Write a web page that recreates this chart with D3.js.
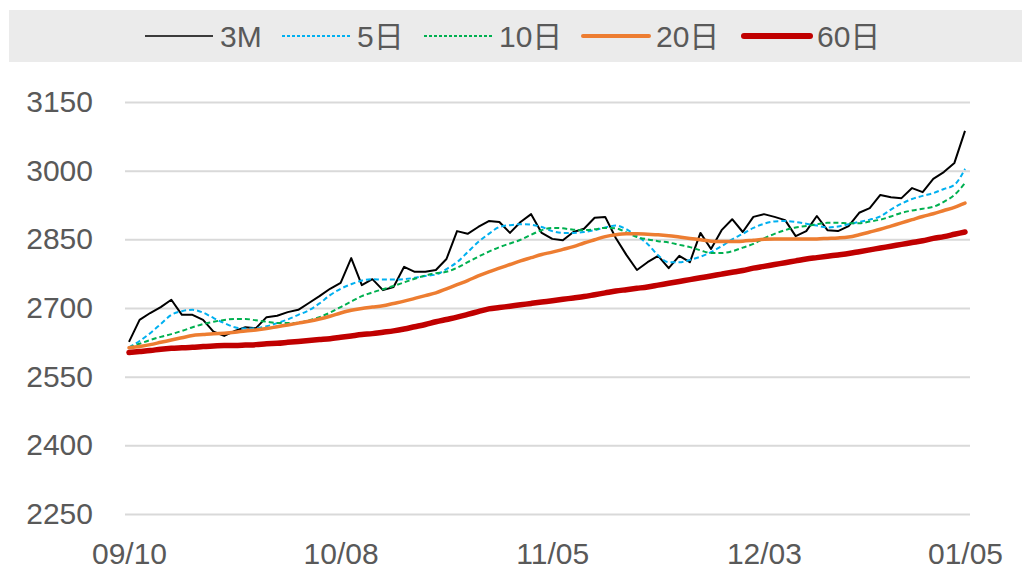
<!DOCTYPE html>
<html>
<head>
<meta charset="utf-8">
<script src="https://cdn.jsdelivr.net/npm/d3@7"></script>
<style>
  html, body { margin: 0; padding: 0; background: #fff; }
  text { font-family: "Liberation Sans", Arial, "Noto Sans CJK SC", sans-serif; fill: #595959; }
</style>
</head>
<body>
<div id="container"></div>
<script>
const dates = [
  '09/10','09/11','09/14','09/15','09/16','09/17','09/18','09/21','09/22','09/23',
  '09/24','09/25','09/28','09/29','09/30','10/01','10/02','10/05','10/06','10/07',
  '10/08','10/09','10/12','10/13','10/14','10/15','10/16','10/19','10/20','10/21',
  '10/22','10/23','10/26','10/27','10/28','10/29','10/30','11/02','11/03','11/04',
  '11/05','11/06','11/09','11/10','11/11','11/12','11/13','11/16','11/17','11/18',
  '11/19','11/20','11/23','11/24','11/25','11/26','11/27','11/30','12/01','12/02',
  '12/03','12/04','12/07','12/08','12/09','12/10','12/11','12/14','12/15','12/16',
  '12/17','12/18','12/21','12/22','12/23','12/28','12/29','12/30','01/04','01/05'
];
const xTickLabels = ['09/10', '10/08', '11/05', '12/03', '01/05'];
const yTicks = [2250, 2400, 2550, 2700, 2850, 3000, 3150];

const close3M = [
  2626,2674,2689,2702,2718,2685,2685,2674,2648,2639,
  2650,2658,2656,2680,2683,2691,2696,2711,2726,2742,
  2755,2809,2750,2763,2739,2746,2790,2779,2779,2783,
  2807,2868,2862,2877,2890,2888,2864,2888,2905,2864,
  2851,2848,2866,2873,2897,2899,2853,2816,2783,2800,
  2814,2787,2814,2800,2864,2829,2870,2894,2866,2899,
  2905,2899,2892,2857,2868,2901,2870,2868,2879,2908,
  2918,2947,2942,2940,2962,2953,2982,2997,3017,3087
];
const ma5 = [
  2614,2628,2645,2665,2685,2693,2696,2690,2678,2667,
  2658,2655,2656,2660,2667,2675,2685,2695,2710,2728,
  2742,2752,2760,2763,2762,2762,2763,2766,2770,2773,
  2785,2800,2822,2844,2862,2877,2881,2883,2882,2877,
  2868,2864,2864,2866,2870,2876,2880,2872,2857,2840,
  2815,2800,2800,2805,2812,2822,2835,2850,2862,2875,
  2884,2889,2890,2888,2884,2880,2876,2878,2883,2888,
  2893,2900,2915,2928,2938,2945,2951,2960,2969,3004
];
const ma10 = [
  2614,2622,2630,2637,2643,2650,2658,2665,2670,2674,
  2676,2676,2673,2670,2667,2667,2668,2673,2680,2690,
  2702,2714,2726,2734,2741,2748,2756,2764,2771,2776,
  2779,2788,2800,2812,2823,2833,2841,2849,2860,2870,
  2875,2874,2871,2870,2872,2875,2874,2865,2855,2850,
  2846,2843,2838,2833,2826,2820,2820,2824,2832,2840,
  2852,2862,2870,2876,2879,2883,2886,2886,2885,2885,
  2889,2893,2900,2908,2913,2917,2921,2932,2947,2973
];
const ma20 = [
  2613,2616,2620,2625,2630,2635,2640,2642,2644,2645,
  2647,2650,2652,2655,2659,2663,2667,2671,2676,2682,
  2689,2695,2699,2702,2705,2710,2715,2721,2727,2733,
  2742,2751,2760,2770,2779,2787,2795,2803,2810,2817,
  2822,2828,2834,2842,2849,2856,2860,2862,2862,2861,
  2860,2858,2855,2852,2849,2846,2845,2845,2846,2848,
  2850,2851,2851,2851,2851,2851,2852,2853,2855,2860,
  2866,2872,2879,2886,2893,2900,2906,2913,2920,2929
];
const ma60 = [
  2603,2605,2607,2610,2612,2613,2614,2616,2617,2618,
  2618,2619,2620,2622,2623,2625,2627,2629,2631,2633,
  2636,2639,2642,2644,2647,2650,2654,2659,2664,2670,
  2675,2680,2686,2692,2698,2701,2704,2707,2710,2713,
  2716,2719,2722,2725,2729,2733,2737,2740,2743,2746,
  2750,2754,2758,2762,2766,2770,2774,2778,2782,2787,
  2791,2795,2799,2803,2807,2810,2813,2816,2819,2823,
  2827,2831,2835,2839,2843,2847,2852,2856,2861,2866
];

const seriesList = [
  { name: '3M',  values: close3M, color: '#000000', width: 2,   dash: null,  curve: d3.curveLinear },
  { name: '5日',  values: ma5,     color: '#00b0f0', width: 2,   dash: '5,3', curve: d3.curveMonotoneX },
  { name: '10日', values: ma10,    color: '#00b050', width: 2,   dash: '5,3', curve: d3.curveMonotoneX },
  { name: '20日', values: ma20,    color: '#ed7d31', width: 3.5, dash: null,  curve: d3.curveMonotoneX },
  { name: '60日', values: ma60,    color: '#c00000', width: 5.5, dash: null,  curve: d3.curveMonotoneX }
];

const W = 1022, H = 569;
const plot = { left: 125, right: 970, top: 102, bottom: 514 };

const svg = d3.select('#container').append('svg')
    .attr('width', W).attr('height', H);

// legend band
svg.append('rect')
    .attr('x', 9).attr('y', 10).attr('width', W - 9).attr('height', 52)
    .attr('fill', '#ebebeb');

const xScale = d3.scalePoint().domain(dates).range([129, 965]);
const yScale = d3.scaleLinear().domain([2250, 3150]).range([plot.bottom, plot.top]);

// gridlines + y labels
const yAxis = svg.append('g')
    .attr('transform', `translate(${plot.left},0)`)
    .call(d3.axisLeft(yScale).tickValues(yTicks).tickFormat(d3.format('d'))
        .tickSize(-(plot.right - plot.left)).tickPadding(32));
yAxis.select('.domain').remove();
yAxis.selectAll('.tick line').attr('stroke', '#d9d9d9').attr('stroke-width', 2);
yAxis.selectAll('.tick text')
    .attr('font-size', 30).attr('fill', '#595959')
    .style('font-family', '"Liberation Sans", Arial, sans-serif');

// x labels
const xAxis = svg.append('g')
    .attr('transform', `translate(0,${plot.bottom})`)
    .call(d3.axisBottom(xScale).tickValues(xTickLabels).tickSize(0));
xAxis.select('.domain').remove();
xAxis.selectAll('.tick text')
    .attr('y', 39).attr('dy', '0.35em')
    .attr('font-size', 30).attr('fill', '#595959')
    .style('font-family', '"Liberation Sans", Arial, sans-serif');

// lines
seriesList.forEach(s => {
    const line = d3.line()
        .x((d, i) => xScale(dates[i]))
        .y(d => yScale(d))
        .curve(s.curve);
    svg.append('path')
        .attr('d', line(s.values))
        .attr('fill', 'none')
        .attr('stroke', s.color)
        .attr('stroke-width', s.width)
        .attr('stroke-dasharray', s.dash)
        .attr('stroke-linejoin', 'round')
        .attr('stroke-linecap', s.width > 3 ? 'round' : 'butt');
});

// legend
const legendPos = [145, 282, 424, 583, 744];
const legend = svg.append('g');
seriesList.forEach((s, i) => {
    const x0 = legendPos[i];
    const len = i >= 3 ? 66 : 68;
    legend.append('line')
        .attr('x1', x0).attr('x2', x0 + len)
        .attr('y1', 36).attr('y2', 36)
        .attr('stroke', s.color)
        .attr('stroke-width', i === 0 ? 1.5 : (i === 3 ? 4 : (i === 4 ? 6 : 2)))
        .attr('stroke-dasharray', s.dash ? '3,2' : null)
        .attr('stroke-linecap', i >= 3 ? 'round' : 'butt');
    legend.append('text')
        .attr('x', x0 + len + 7).attr('y', 36).attr('dy', '0.36em')
        .attr('font-size', 30).attr('fill', '#595959')
        .text(s.name);
});
</script>
</body>
</html>
